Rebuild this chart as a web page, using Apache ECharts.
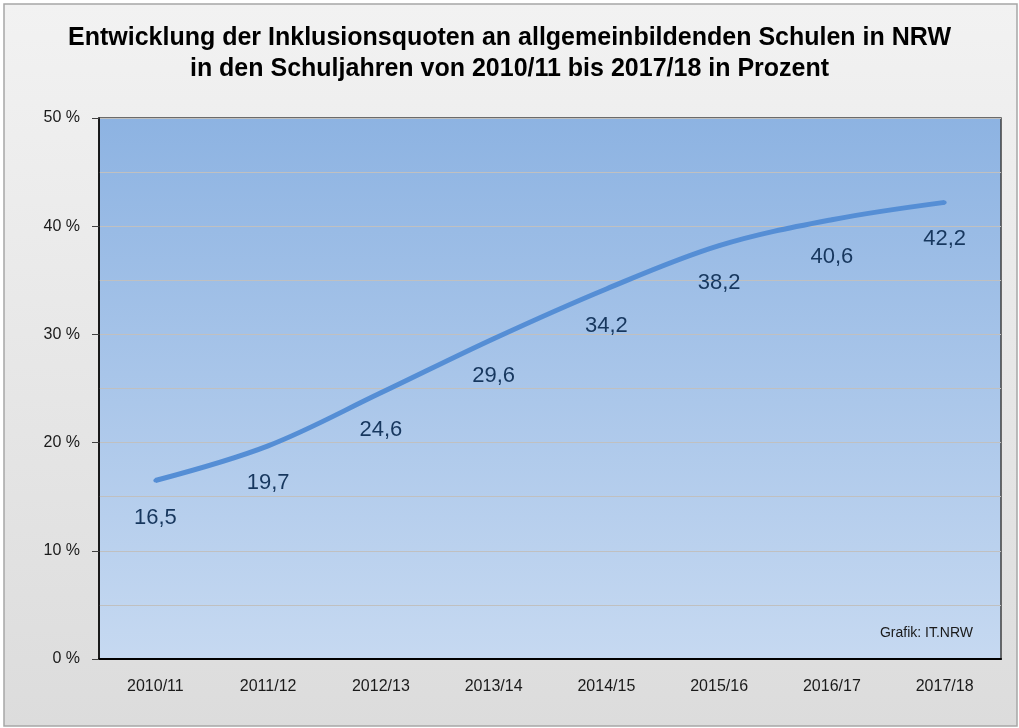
<!DOCTYPE html>
<html>
<head>
<meta charset="utf-8">
<script src="https://cdn.jsdelivr.net/npm/echarts@6/dist/echarts.min.js"></script>
<style>
html, body { margin: 0; padding: 0; background: #fff; }
#chart { width: 1019px; height: 728px; }
</style>
</head>
<body>
<div id="chart"></div>
<script>
var years = ['2010/11', '2011/12', '2012/13', '2013/14', '2014/15', '2015/16', '2016/17', '2017/18'];
var quote = [16.5, 19.7, 24.6, 29.6, 34.2, 38.2, 40.6, 42.2];

var myChart = echarts.init(document.getElementById('chart'));

var option = {
	animation: false,
	backgroundColor: '#ffffff',
	graphic: [{
		type: 'rect',
		z: -10,
		shape: { x: 4, y: 4, width: 1013, height: 722 },
		style: {
			fill: new echarts.graphic.LinearGradient(0, 0, 0, 1, [
				{ offset: 0, color: '#f2f2f2' },
				{ offset: 1, color: '#dcdcdc' }
			]),
			stroke: '#a6a6a6',
			lineWidth: 1.5
		}
	}, {
		type: 'text',
		right: 46,
		top: 626,
		z: 10,
		style: {
			text: 'Grafik: IT.NRW',
			font: '14px "Liberation Sans", Arial, sans-serif',
			fill: '#1a1a1a'
		}
	}],
	title: {
		text: 'Entwicklung der Inklusionsquoten an allgemeinbildenden Schulen in NRW\nin den Schuljahren von 2010/11 bis 2017/18 in Prozent',
		left: 'center',
		top: 18,
		textStyle: {
			fontFamily: '"Liberation Sans Narrow", "Liberation Sans", Arial, sans-serif',
			fontWeight: 'bold',
			fontSize: 25,
			lineHeight: 31,
			color: '#000'
		}
	},
	grid: {
		left: 99,
		right: 18,
		top: 118,
		bottom: 69,
		show: true,
		borderColor: '#404040',
		borderWidth: 1.5,
		backgroundColor: new echarts.graphic.LinearGradient(0, 0, 0, 1, [
			{ offset: 0, color: '#8db3e2' },
			{ offset: 1, color: '#c6d9f1' }
		])
	},
	xAxis: {
		type: 'category',
		data: years,
		boundaryGap: true,
		axisLine: { lineStyle: { color: '#000', width: 2 } },
		axisTick: { show: false },
		axisLabel: {
			margin: 20,
			fontSize: 16,
			color: '#1a1a1a',
			fontFamily: '"Liberation Sans", Arial, sans-serif'
		}
	},
	yAxis: {
		type: 'value',
		min: 0,
		max: 50,
		interval: 10,
		axisLine: { show: true, lineStyle: { color: '#000', width: 1.5 } },
		axisTick: { show: true, length: 7, lineStyle: { color: '#404040' } },
		splitLine: { show: true, lineStyle: { color: '#c0c0c0', width: 1 } },
		minorTick: { show: false, splitNumber: 2 },
		minorSplitLine: { show: true, lineStyle: { color: '#c0c0c0', width: 1 } },
		axisLabel: {
			margin: 19,
			fontSize: 16,
			color: '#1a1a1a',
			fontFamily: '"Liberation Sans", Arial, sans-serif',
			formatter: '{value} %'
		}
	},
	series: [{
		name: 'Inklusionsquote',
		type: 'line',
		data: quote,
		smooth: 0.35,
		symbol: 'circle',
		symbolSize: 4,
		showSymbol: true,
		itemStyle: { color: '#558ed5' },
		lineStyle: { color: '#558ed5', width: 5 },
		label: {
			show: true,
			position: 'bottom',
			distance: 24,
			fontSize: 22,
			color: '#17375e',
			fontFamily: '"Liberation Sans", Arial, sans-serif',
			formatter: function (p) {
				return p.value.toFixed(1).replace('.', ',');
			}
		}
	}]
};

myChart.setOption(option);
</script>
</body>
</html>
